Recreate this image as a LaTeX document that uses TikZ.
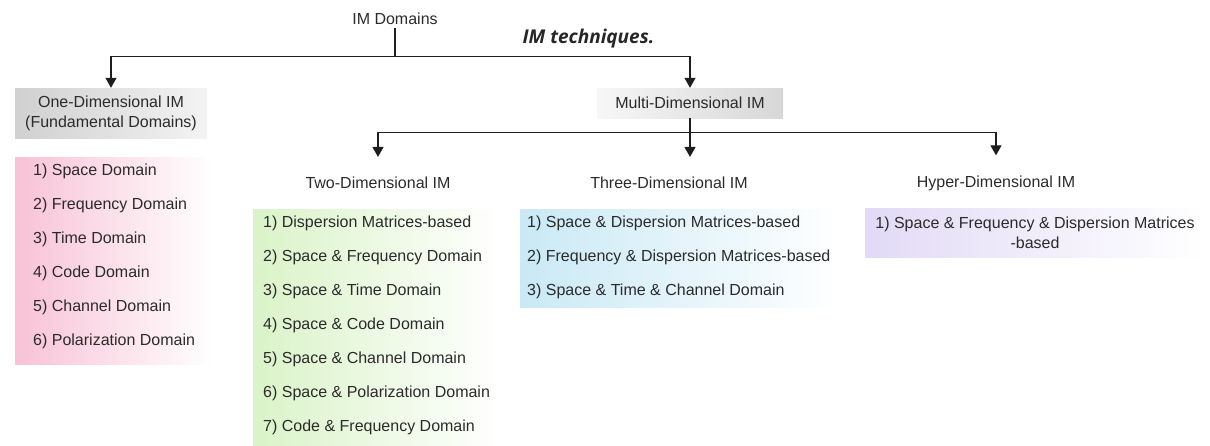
\documentclass[tikz,border=0pt]{standalone}
\usepackage{fontspec}
\setmainfont{Liberation Sans}
\newfontfamily\capfont{Open Sans}
\usetikzlibrary{arrows.meta}

\definecolor{ink}{HTML}{2B2B2B}
\definecolor{lineink}{HTML}{1E1E1E}
\definecolor{greyA}{HTML}{D0D0D0}
\definecolor{greyB}{HTML}{F3F3F3}
\definecolor{pinkL}{HTML}{F8C2D6}
\definecolor{greenL}{HTML}{DAF3C8}
\definecolor{blueL}{HTML}{C9E9F5}
\definecolor{purpleL}{HTML}{E2DAF6}

% extra depth under the last item of a list
\newcommand{\lastpad}[1]{\rule[-#1]{0pt}{#1}}

\tikzset{
  every node/.style={text=ink, font=\fontsize{16}{20}\selectfont},
  conn/.style={draw=lineink, line width=1.3pt},
  arr/.style={conn, -{Triangle[width=11pt,length=10pt]}},
  headbox/.style={align=center, inner sep=0pt},
  title/.style={inner sep=0pt},
  listbox/.style={align=left, inner ysep=7pt, right color=white,
    font=\fontsize{16}{34}\selectfont},
}

\begin{document}
\begin{tikzpicture}[x=1pt,y=-1pt]
\useasboundingbox (0,0) rectangle (1210,445);

% root and the two main branches
\node (root) at (395,19) {IM Domains};
\node[font=\capfont\fontsize{19}{22}\selectfont\bfseries\itshape, text=black!85, anchor=west] (cap) at (519,39) {IM techniques.};

\node[headbox, minimum width=192pt, minimum height=50pt,
      left color=greyA, right color=greyB] (one) at (111,113)
      {One-Dimensional IM\\(Fundamental Domains)};
\node[headbox, minimum width=186pt, minimum height=30pt,
      left color=greyB!70!white, right color=greyA!85!white] (multi) at (690,103)
      {Multi-Dimensional IM};

\draw[conn] (root.south) -- ++(0,28) coordinate (j1);
\draw[arr] (j1) -| (one.north);
\draw[arr] (j1) -| (multi.north);

% multi-dimensional sub-branches
\node[title] (two) at (378,183) {Two-Dimensional IM};
\node[title] (three) at (669,183) {Three-Dimensional IM};
\node[title] (hyper) at (996,183) {Hyper-Dimensional IM};

\draw[conn] (multi.south) -- ++(0,14) coordinate (j2);
\draw[arr, shorten >=20pt] (j2) -| (two.north);
\draw[arr, shorten >=20pt] (j2) -- (j2 |- three.north);
\draw[arr, shorten >=20pt] (j2) -| (hyper.north);

% lists of domains
\node[listbox, left color=pinkL, inner xsep=18pt, anchor=north west] (l1) at (15,157)
  {1) Space Domain\\
   2) Frequency Domain\\
   3) Time Domain\\
   4) Code Domain\\
   5) Channel Domain\\
   6) Polarization Domain\lastpad{12pt}};

\node[listbox, left color=greenL, inner xsep=10pt, anchor=north west] (l2) at (253,209)
  {1) Dispersion Matrices-based\\
   2) Space \& Frequency Domain\\
   3) Space \& Time Domain\\
   4) Space \& Code Domain\\
   5) Space \& Channel Domain\\
   6) Space \& Polarization Domain\\
   7) Code \& Frequency Domain\lastpad{7pt}};

\node[listbox, left color=blueL, inner xsep=7pt, anchor=north west] (l3) at (520,209)
  {1) Space \& Dispersion Matrices-based\\
   2) Frequency \& Dispersion Matrices-based\\
   3) Space \& Time \& Channel Domain\lastpad{5pt}};

\node[headbox, left color=purpleL, right color=white,
      minimum width=340pt, minimum height=49pt] (l4) at (1035,232.5)
  {1) Space \& Frequency \& Dispersion Matrices\\-based};
\end{tikzpicture}
\end{document}
